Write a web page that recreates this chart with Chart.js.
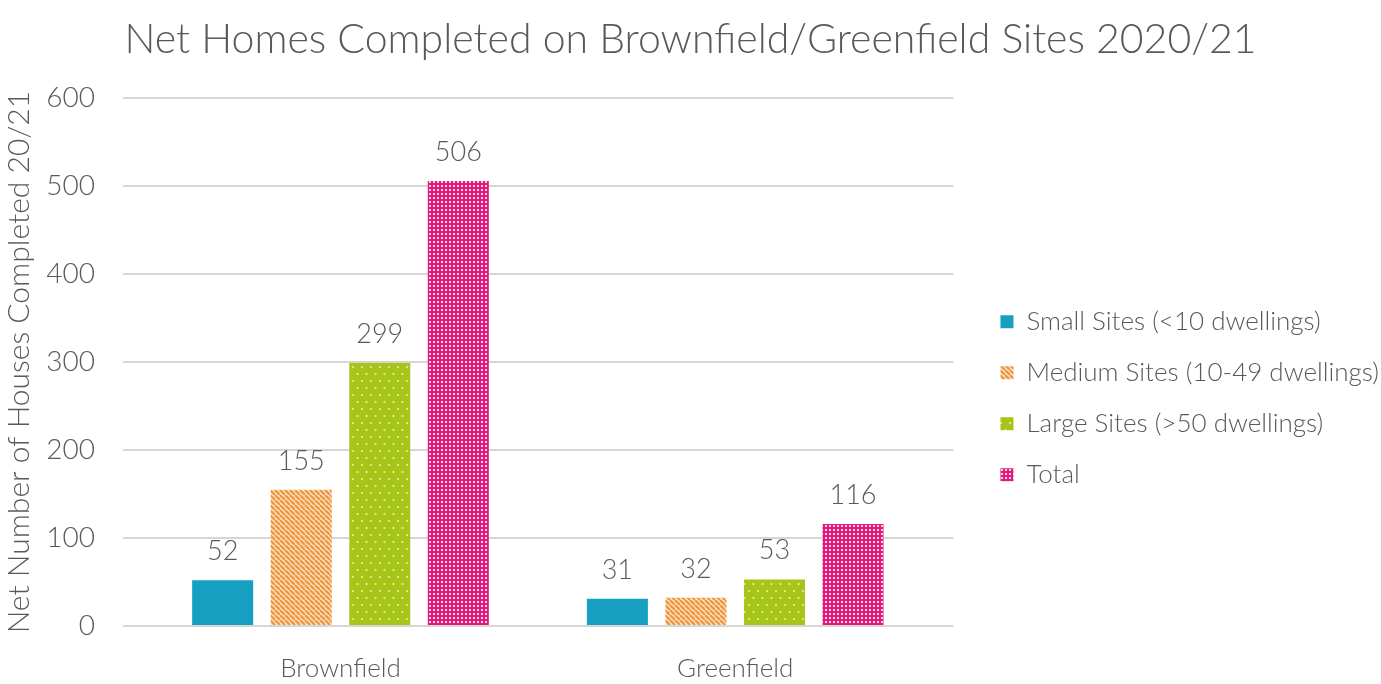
<!DOCTYPE html>
<html>
<head>
<meta charset="utf-8">
<title>Net Homes Completed on Brownfield/Greenfield Sites 2020/21</title>
<script src="https://cdn.jsdelivr.net/npm/chart.js@4"></script>
<style>
  html, body { margin: 0; padding: 0; background: #fff; }
  canvas { display: block; }
</style>
</head>
<body>
<canvas id="homesChart" width="1381" height="684"></canvas>
<script>
"use strict";

const siteTypes = ['Brownfield', 'Greenfield'];
const seriesNames = [
  'Small Sites (<10 dwellings)',
  'Medium Sites (10-49 dwellings)',
  'Large Sites (>50 dwellings)',
  'Total'
];
const smallSites  = [52, 31];
const mediumSites = [155, 32];
const largeSites  = [299, 53];
const totalSites  = [506, 116];
const yTicks = [0, 100, 200, 300, 400, 500, 600];

const textColor = '#595959';
const fontFamily = "Lato, 'Open Sans', sans-serif";

const canvas = document.getElementById('homesChart');
const ctx = canvas.getContext('2d');

// tiny offscreen tiles turned into repeating fills
const makeTile = (w, h, paint) => {
  const tile = document.createElement('canvas');
  tile.width = w;
  tile.height = h;
  paint(tile.getContext('2d'), w, h);
  return ctx.createPattern(tile, 'repeat');
};

const solidTeal = '#169fc1';

const orangeStripes = makeTile(5, 5, (g, w, h) => {
  g.fillStyle = '#fde4ca';
  g.fillRect(0, 0, w, h);
  g.strokeStyle = '#ee9842';
  g.lineWidth = 2.4;
  for (let k = -1; k <= 1; k++) {
    g.beginPath();
    g.moveTo(k * w, 0);
    g.lineTo(k * w + w, h);
    g.stroke();
  }
});

const greenDots = makeTile(9, 14, (g, w, h) => {
  g.fillStyle = '#a6c518';
  g.fillRect(0, 0, w, h);
  g.fillStyle = '#e6f19e';
  [[2, 3], [6.5, 10]].forEach(([x, y]) => {
    g.beginPath();
    g.arc(x, y, 1.1, 0, Math.PI * 2);
    g.fill();
  });
});

const pinkDots = makeTile(4, 4, (g, w, h) => {
  g.fillStyle = '#e11a7b';
  g.fillRect(0, 0, w, h);
  g.fillStyle = '#fad2e4';
  g.fillRect(1, 1, 2, 2);
});

const fills = [solidTeal, orangeStripes, greenDots, pinkDots];
const seriesValues = [smallSites, mediumSites, largeSites, totalSites];

// value printed above each bar
const valueLabels = {
  id: 'valueLabels',
  afterDatasetsDraw(chart) {
    const c = chart.ctx;
    c.save();
    c.font = `300 27px ${fontFamily}`;
    c.fillStyle = textColor;
    c.textAlign = 'center';
    c.textBaseline = 'alphabetic';
    chart.data.datasets.forEach((ds, i) => {
      chart.getDatasetMeta(i).data.forEach((bar, j) => {
        c.fillText(ds.data[j].y, bar.x, bar.y - 20);
      });
    });
    c.restore();
  }
};

const datasets = seriesNames.map((name, i) => ({
  label: name,
  data: seriesValues[i].map((v, j) => ({ x: j, y: v })),
  backgroundColor: fills[i],
  borderWidth: 0,
  categoryPercentage: 0.796,
  barPercentage: 0.777
}));

new Chart(ctx, {
  type: 'bar',
  data: { datasets },
  plugins: [valueLabels],
  options: {
    responsive: false,
    animation: false,
    layout: { padding: { left: -8, top: 0, bottom: 0, right: -8 } },
    plugins: {
      title: {
        display: true,
        text: 'Net Homes Completed on Brownfield/Greenfield Sites 2020/21',
        color: textColor,
        font: { family: fontFamily, size: 41, weight: 300 },
        padding: { top: 15, bottom: 34 }
      },
      legend: {
        position: 'right',
        fullSize: false,
        align: 'center',
        maxWidth: 430,
        title: { display: true, text: ' ', padding: { top: 29, bottom: 29 } },
        labels: {
          boxWidth: 13,
          boxHeight: 13,
          padding: 25,
          color: textColor,
          font: { family: fontFamily, size: 26, weight: 300 }
        }
      },
      tooltip: { enabled: false }
    },
    scales: {
      x: {
        type: 'linear',
        offset: false,
        min: -0.551,
        max: 1.553,
        afterBuildTicks: (scale) => { scale.ticks = siteTypes.map((_, i) => ({ value: i })); },
        afterFit: (scale) => { scale.height = 58; },
        grid: { display: false },
        border: { display: false },
        ticks: {
          callback: (v) => siteTypes[v],
          color: textColor,
          font: { family: fontFamily, size: 26, weight: 300 },
          padding: 19,
          maxRotation: 0
        }
      },
      y: {
        min: 0,
        max: 600,
        afterBuildTicks: (scale) => { scale.ticks = yTicks.map(v => ({ value: v })); },
        afterFit: (scale) => { scale.width = 131; },
        grid: { color: '#d6d6d6', lineWidth: 2, drawTicks: false },
        border: { display: false },
        ticks: {
          color: textColor,
          font: { family: fontFamily, size: 28, weight: 300 },
          padding: 28
        },
        title: {
          display: true,
          text: 'Net Number of Houses Completed 20/21',
          color: textColor,
          font: { family: fontFamily, size: 30, weight: 300 },
          padding: { top: 9, bottom: 0 }
        }
      },
      gap: {
        type: 'linear',
        position: 'right',
        grid: { display: false },
        border: { display: false },
        ticks: { display: false },
        afterFit: (scale) => { scale.width = 22; }
      }
    }
  }
});
</script>
</body>
</html>
